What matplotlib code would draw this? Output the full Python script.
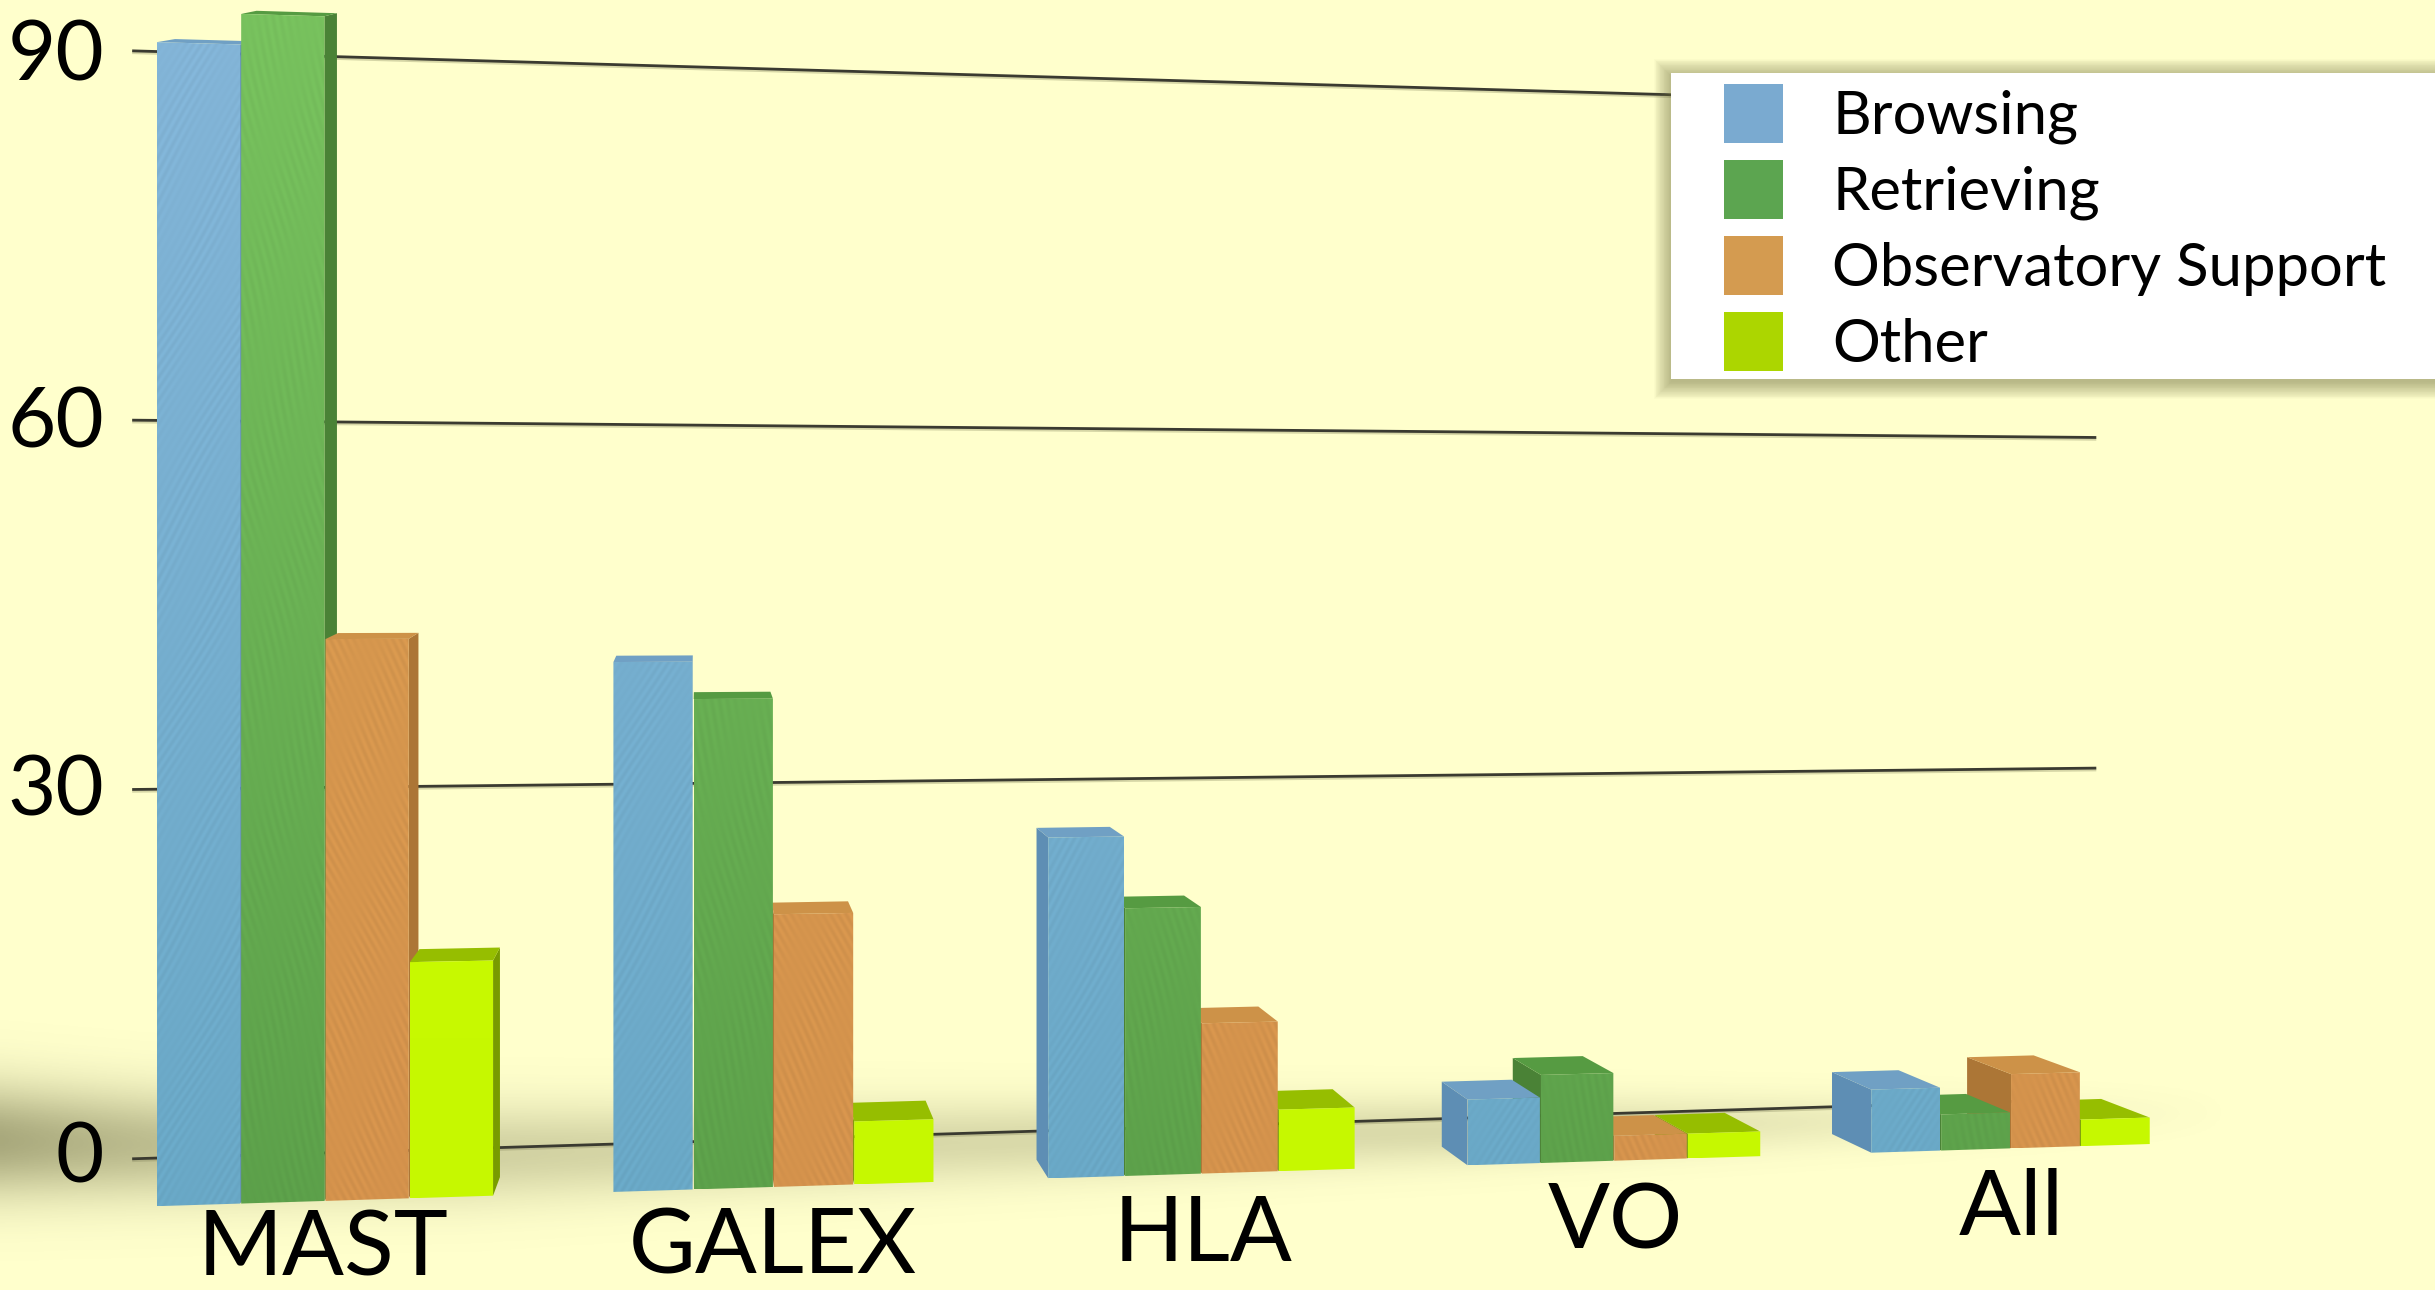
import numpy as np
import matplotlib
matplotlib.use('Agg')
import matplotlib.pyplot as plt
from matplotlib.patches import Polygon, Rectangle

# data (percent)
groups = ['MAST', 'GALEX', 'HLA', 'VO', 'All']
series = ['Browsing', 'Retrieving', 'Observatory Support', 'Other']
browsing = [91, 42.4, 27.9, 5.5, 5.4]
retrieving = [93.4, 39.4, 22, 7.4, 3.1]
observatory = [44.3, 22, 12.4, 2.1, 6.4]
other = [18.7, 5.1, 5.1, 2.1, 2.3]
yticks = [0, 30, 60, 90]

# layout, in units of the 1568x831 view
group_left = [101, 395, 675, 945, 1205]
group_pitch = [54.3, 51.7, 49.5, 47.3, 45]
group_label_x = [208, 498, 775, 1040, 1295]
group_label_y = [805, 804, 796, 788, 779]
grid_end = [1335, 1349, 1349, 1349]
BG = '#ffffcc'

# front colour (top of page), front colour (bottom), top face, side face, streak amp, streak slope
styles = [
    ((132, 181, 216), (105, 168, 198), (112, 160, 196), (94, 142, 180), 0.025, 0.6),
    ((120, 194, 94), (92, 160, 74), (86, 155, 66), (74, 130, 54), 0.02, -0.25),
    ((216, 156, 80), (212, 146, 76), (205, 146, 72), (172, 118, 54), 0.03, -0.5),
    ((205, 255, 0), (198, 248, 0), (150, 190, 0), (120, 155, 0), 0.0, 0.0),
]


def floor_y(x):
    return 777 - 0.0312 * (x - 101)


def front_scale(x):
    return 8.24 * (1 - (x - 101) / 12800)


def wall_y(x, v):
    return 746 - 0.0306 * (x - 101) - (7.92 - 0.000657 * (x - 101)) * v


def depth_x(x):
    return x - 0.0335 * (x - 450)


def depth_up(y):
    return 2 + 10 * (np.clip(y, 0, 720) / 720) ** 3


def textured_face(ax, pts, st, order):
    # gradient plus some wood-like streaks, clipped to the bar's front
    pts = np.array(pts)
    x0, x1 = pts[:, 0].min(), pts[:, 0].max()
    y0, y1 = pts[:, 1].min(), pts[:, 1].max()
    xx, yy = np.meshgrid(np.arange(x0, x1, 0.5), np.arange(y0, y1, 0.5))
    t = np.clip(yy / 780, 0, 1)[..., None]
    rgb = (np.array(st[0]) * (1 - t) + np.array(st[1]) * t) / 255
    wobble = 3 * np.sin(yy / 37)
    streak = np.sin(2 * np.pi * (xx + st[5] * yy + wobble) / 5) * (0.6 + 0.4 * np.sin(2 * np.pi * (xx + yy / 3) / 43))
    rgb = np.clip(rgb * (1 + st[4] * streak[..., None]), 0, 1)
    im = ax.imshow(rgb, extent=(x0, x1, y1, y0), aspect='auto', zorder=order, interpolation='bilinear')
    im.set_clip_path(Polygon(pts, transform=ax.transData))


fig = plt.figure(figsize=(24.35, 12.9), dpi=100, facecolor=BG)
ax = fig.add_axes([0, 0, 1, 1])
ax.set_facecolor(BG)
plt.rcParams['font.family'] = ['Lato', 'DejaVu Sans']

# soft floor shadow
sx, sy = np.meshgrid(np.linspace(0, 1568, 500), np.linspace(600, 831, 160))
yc = 735 + 16 * np.clip(sx / 300, 0, 1) - 0.024 * sx
sigma = 25 - 0.011 * sx
amp = 0.3 * np.exp(-sx / 190) + 0.22 * np.clip((1440 - sx) / 500, 0, 1)
shadow = np.zeros(sx.shape + (4,))
shadow[..., 0:3] = (0.35, 0.35, 0.2)
shadow[..., 3] = amp * np.exp(-(sy - yc) ** 2 / (2 * sigma ** 2))
ax.imshow(shadow, extent=(0, 1568, 831, 600), aspect='auto', zorder=1)

# grid lines on the back wall
for v, x_end in zip(yticks, grid_end):
    xs = np.array([86, x_end])
    ax.plot(xs, wall_y(xs, v) + 1.2, color='#8a8a60', lw=2.0, alpha=0.35, zorder=2)
    ax.plot(xs, wall_y(xs, v), color='#3a3a30', lw=2.0, zorder=3)
    ax.text(67, 37 + (90 - v) * 7.89, str(v), ha='right', va='center', fontsize=60, color='black', zorder=9)

# bars, the ones furthest from the vanishing point first
values = [browsing, retrieving, observatory, other]
bars = []
for g in range(len(groups)):
    for s in range(len(series)):
        bars.append((g, s, group_left[g] + s * group_pitch[g], group_pitch[g] - 0.7))
bars.sort(key=lambda b: -abs(b[2] + b[3] / 2 - 450))

for i, (g, s, xl, w) in enumerate(bars):
    st = styles[s]
    v = values[s][g]
    xr = xl + w
    yb_l, yb_r = floor_y(xl), floor_y(xr)
    yt_l, yt_r = yb_l - front_scale(xl) * v, yb_r - front_scale(xr) * v
    xbl, xbr = depth_x(xl), depth_x(xr)
    up = depth_up(yt_l)
    order = 4 + i * 0.01
    top_col = np.array(st[2]) / 255
    side_col = np.array(st[3]) / 255
    if xbr > xr:
        ax.add_patch(Polygon([(xr, yt_r), (xbr, yt_r - up), (xbr, yb_r - 12), (xr, yb_r)],
                             fc=side_col, ec='none', zorder=order))
    if xbl < xl:
        ax.add_patch(Polygon([(xl, yt_l), (xbl, yt_l - up), (xbl, yb_l - 12), (xl, yb_l)],
                             fc=side_col, ec='none', zorder=order))
    ax.add_patch(Polygon([(xl, yt_l), (xr, yt_r), (xbr, yt_r - up), (xbl, yt_l - up)],
                         fc=top_col, ec='none', zorder=order))
    textured_face(ax, [(xl, yt_l), (xr, yt_r), (xr, yb_r), (xl, yb_l)], st, order + 0.001)

for name, lx, ly in zip(groups, group_label_x, group_label_y):
    ax.text(lx, ly, name, ha='center', va='center', fontsize=66, color='black', zorder=9)

# legend box with its shadow
box = (1076, 47, 520, 197)
for grow in np.linspace(11, 0, 22):
    ax.add_patch(Rectangle((box[0] - grow, box[1] - grow + 2), box[2] + 2 * grow, box[3] + 2 * grow,
                           fc='#77774a', ec='none', alpha=0.028, zorder=10))
ax.add_patch(Rectangle(box[:2], box[2], box[3], fc='white', ec='none', zorder=11))
legend_top = [54, 103, 152, 201]
legend_cols = [(122, 170, 208), (92, 165, 80), (212, 155, 80), (172, 214, 0)]
for name, y, col in zip(series, legend_top, legend_cols):
    ax.add_patch(Rectangle((1110, y), 38, 38, fc=np.array(col) / 255, ec='none', zorder=12))
    ax.text(1180, y + 21, name, ha='left', va='center', fontsize=43, color='black', zorder=12)

ax.set_xlim(0, 1568)
ax.set_ylim(831, 0)
ax.axis('off')
fig.savefig('out.png', dpi=100, facecolor=BG)
